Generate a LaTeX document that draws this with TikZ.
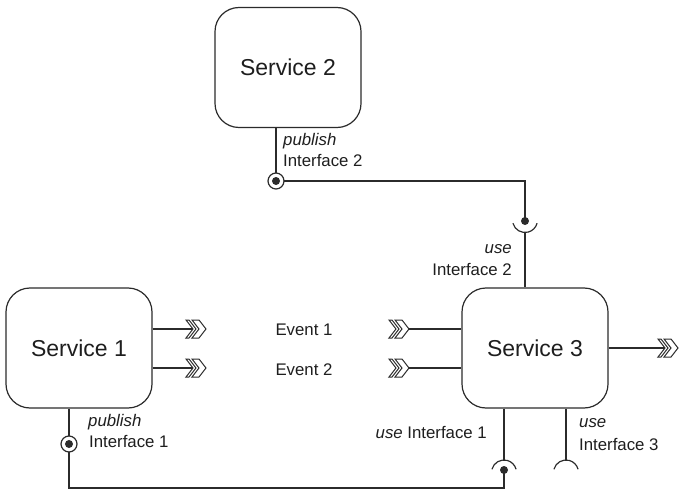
\documentclass[tikz,border=0pt]{standalone}
\usepackage{fontspec}
\setmainfont{Liberation Sans}
\definecolor{inkc}{HTML}{2B2B2B}
\definecolor{txtc}{HTML}{1E1E1E}
\begin{document}
\begin{tikzpicture}[x=1pt,y=-1pt,
  ink/.style={draw=inkc, line width=1.2pt},
  svc/.style={ink, rounded corners=24pt, minimum width=146pt, minimum height=120pt,
              inner sep=0pt, font=\fontsize{23}{27}\selectfont, text=txtc},
  lbl/.style={font=\fontsize{16.8}{20}\selectfont, text=txtc, inner sep=0pt},
  evtip/.pic={
    \draw[draw=inkc, line width=1pt, line join=miter]
      (0,-9)--(3,-9)--(10,0)--(3,9)--(0,9)--(7,0)--cycle;
    \draw[draw=inkc, line width=1pt, line join=miter]
      (6,-9)--(13,-9)--(20,0)--(13,9)--(6,9)--(13,0)--cycle;
  },
]
\useasboundingbox (0,0) rectangle (680,492);

% services
\node[svc] (s2) at (288,67.5) {Service 2};
\node[svc] (s1) at (79,348) {Service 1};
\node[svc] (s3) at (535,348) {Service 3};

% interface points
\coordinate (p2) at (276,181);
\coordinate (k2) at (525,221);
\coordinate (k2c) at (525,220);
\coordinate (k2b) at (525,232.5);
\coordinate (p1) at (69,444);
\coordinate (k1) at (504,470);
\coordinate (k1c) at (504,472.5);
\coordinate (k1t) at (504,460);
\coordinate (k3c) at (566,472.5);
\coordinate (k3t) at (566,460);
\coordinate (low) at (0,488);

% interface 2: published by service 2, used by service 3
\draw[ink] (s2.south -| p2) -- (p2) -- (p2 -| k2) -- (k2);
\draw[ink] (k2c) ++(195:12.5pt) arc[start angle=195, end angle=345, radius=12.5pt];
\draw[ink] (k2b) -- (s3.north -| k2b);

% interface 1: published by service 1, used by service 3
\draw[ink] (s1.south -| p1) -- (p1) -- (p1 |- low) -- (k1 |- low) -- (k1);
\draw[ink] (s3.south -| k1t) -- (k1t);
\draw[ink] (k1c) ++(165:12.5pt) arc[start angle=165, end angle=15, radius=12.5pt];

% interface 3: used by service 3, unconnected
\draw[ink] (s3.south -| k3t) -- (k3t);
\draw[ink] (k3c) ++(165:12.5pt) arc[start angle=165, end angle=15, radius=12.5pt];

% publish and socket markers
\draw[ink, fill=white] (p2) circle[radius=8pt];
\fill[inkc] (p2) circle[radius=4pt];
\draw[ink, fill=white] (p1) circle[radius=8pt];
\fill[inkc] (p1) circle[radius=4pt];
\fill[inkc] (k2) circle[radius=4pt];
\fill[inkc] (k1) circle[radius=4pt];

% events
\coordinate (o1) at (186,329); \coordinate (n1) at (193,329);
\coordinate (o2) at (186,368); \coordinate (n2) at (193,368);
\coordinate (i1) at (389,329); \coordinate (t1) at (409,329);
\coordinate (i2) at (389,368); \coordinate (t2) at (409,368);
\coordinate (o3) at (658,348); \coordinate (n3) at (665,348);

\draw[ink] (s1.east |- n1) -- (n1);
\draw[ink] (s1.east |- n2) -- (n2);
\pic at (o1) {evtip};
\pic at (o2) {evtip};
\draw[ink] (t1) -- (t1 -| s3.west);
\draw[ink] (t2) -- (t2 -| s3.west);
\pic at (i1) {evtip};
\pic at (i2) {evtip};
\draw[ink] (s3.east |- n3) -- (n3);
\pic at (o3) {evtip};

% labels
\node[lbl, anchor=base] (ev1) at (304,335) {Event 1};
\node[lbl, anchor=base] (ev2) at (304,375) {Event 2};
\node[lbl, anchor=base west] (pub2a) at (283,146) {\itshape publish};
\node[lbl, anchor=base west] (pub2b) at (283,167) {Interface 2};
\node[lbl, anchor=base east] (use2a) at (512,253) {\itshape use};
\node[lbl, anchor=base east] (use2b) at (512,275) {Interface 2};
\node[lbl, anchor=base west] (pub1a) at (88,426) {\itshape publish};
\node[lbl, anchor=base west] (pub1b) at (89,447) {Interface 1};
\node[lbl, anchor=base east] (use1) at (487,438) {\itshape use\upshape{} Interface 1};
\node[lbl, anchor=base west] (use3a) at (579,427) {\itshape use};
\node[lbl, anchor=base west] (use3b) at (579,450) {Interface 3};
\end{tikzpicture}
\end{document}
